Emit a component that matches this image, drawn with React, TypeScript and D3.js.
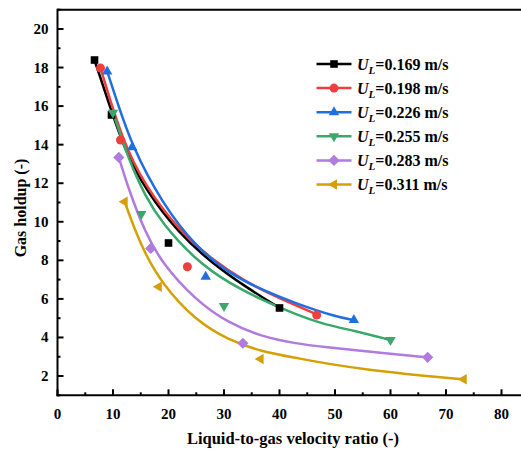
import React from "react";
import * as d3 from "d3";

// ---- Data ----
const seriesLabels = ["0.169", "0.198", "0.226", "0.255", "0.283", "0.311"];
const seriesColors = ["#000000", "#ee3f3f", "#1f6fe0", "#3aa86b", "#b07ade", "#d4a005"];
const seriesMarkers = ["square", "circle", "up", "down", "diamond", "left"];

// measured points
const x169 = [6.67, 9.73, 20, 40];
const y169 = [18.39, 15.54, 8.9, 5.53];
const x198 = [7.75, 11.35, 23.4, 46.7];
const y198 = [17.97, 14.24, 7.67, 5.16];
const x226 = [8.95, 13.45, 26.7, 53.4];
const y226 = [17.8, 13.86, 7.15, 4.9];
const x255 = [10.0, 15.1, 30.0, 60.0];
const y255 = [15.66, 10.4, 5.63, 3.87];
const x283 = [11.05, 16.8, 33.4, 66.7];
const y283 = [13.34, 8.62, 3.7, 2.97];
const x311 = [12.1, 18.25, 36.6, 73.2];
const y311 = [11.04, 6.63, 2.88, 1.83];

// fitted curves
const fitX169 = [6.67, 9.25, 12.0, 15.86, 21.86, 27.87, 33.87, 40];
const fitY169 = [18.39, 16.14, 13.8, 11.65, 9.4, 7.85, 6.63, 5.53];
const fitX198 = [7.75, 11.65, 15.86, 21.86, 27.87, 33.87, 39.88, 46.7];
const fitY198 = [17.97, 14.24, 11.82, 9.57, 8.02, 6.89, 6.03, 5.2];
const fitX226 = [8.95, 10.45, 13.45, 18.86, 24.86, 30.87, 36.88, 42.88, 50.09, 53.4];
const fitY226 = [17.8, 16.49, 13.89, 10.96, 8.71, 7.33, 6.46, 5.77, 5.08, 4.9];
const fitX255 = [10.0, 12.85, 15.86, 18.86, 24.86, 30.87, 36.88, 42.88, 47.4, 53.4, 60];
const fitY255 = [15.66, 13.2, 11.3, 9.92, 8.02, 6.81, 5.94, 5.2, 4.73, 4.35, 3.87];
const fitX283 = [11.05, 12.85, 15.86, 18.86, 24.86, 30.87, 36.88, 42.88, 47.4, 59.4, 66.7];
const fitY283 = [13.34, 11.65, 9.4, 7.85, 5.94, 4.73, 4.04, 3.69, 3.52, 3.17, 2.97];
const fitX311 = [12.1, 13.96, 15.77, 18.77, 24.77, 30.77, 36.79, 42.79, 49.1, 56.3, 65.3, 73.2];
const fitY311 = [11.04, 9.57, 8.36, 6.81, 4.9, 3.87, 3.26, 2.95, 2.61, 2.31, 2.03, 1.83];

const xMajor = [0, 10, 20, 30, 40, 50, 60, 70, 80];
const xMinor = [5, 15, 25, 35, 45, 55, 65, 75, 85];
const yMajor = [2, 4, 6, 8, 10, 12, 14, 16, 18, 20];
const yMinor = [1, 3, 5, 7, 9, 11, 13, 15, 17, 19, 21];

const xTitle = "Liquid-to-gas velocity ratio (-)";
const yTitle = "Gas holdup (-)";

const pointsX = [x169, x198, x226, x255, x283, x311];
const pointsY = [y169, y198, y226, y255, y283, y311];
const fitsX = [fitX169, fitX198, fitX226, fitX255, fitX283, fitX311];
const fitsY = [fitY169, fitY198, fitY226, fitY255, fitY283, fitY311];

const W = 521;
const H = 452;
const FONT = "'Liberation Serif', 'Times New Roman', serif";

const x = d3.scaleLinear().domain([0, 85]).range([57.5, 57.5 + 85 * 5.55]);
const y = d3.scaleLinear().domain([1, 21]).range([395.3, 9.7]);

function markerPath(type: string, cx: number, cy: number): string {
  const p = d3.path();
  if (type === "square") {
    const s = 3.8;
    p.rect(cx - s, cy - s, 2 * s, 2 * s);
  } else if (type === "circle") {
    p.arc(cx, cy, 4.5, 0, Math.PI * 2);
  } else if (type === "diamond") {
    const s = 5.6;
    p.moveTo(cx, cy - s);
    p.lineTo(cx + s, cy);
    p.lineTo(cx, cy + s);
    p.lineTo(cx - s, cy);
    p.closePath();
  } else {
    const a = 5.2;
    const h = a * Math.sqrt(3);
    let pts: [number, number][] = [];
    if (type === "up") pts = [[0, -(2 * h) / 3], [-a, h / 3], [a, h / 3]];
    if (type === "down") pts = [[0, (2 * h) / 3], [-a, -h / 3], [a, -h / 3]];
    if (type === "left") pts = [[-(2 * h) / 3, 0], [h / 3, -a], [h / 3, a]];
    p.moveTo(cx + pts[0][0], cy + pts[0][1]);
    p.lineTo(cx + pts[1][0], cy + pts[1][1]);
    p.lineTo(cx + pts[2][0], cy + pts[2][1]);
    p.closePath();
  }
  return p.toString();
}

export default function App() {
  const line = d3
    .line<[number, number]>()
    .x((d) => x(d[0]))
    .y((d) => y(d[1]))
    .curve(d3.curveBasis);

  const legendY0 = 64;
  const legendStep = 24.1;

  return (
    <div style={{ position: "absolute", left: 0, top: 0 }}>
      <svg width={W} height={H} style={{ display: "block", background: "#fff" }}>
        <rect x={0} y={0} width={W} height={H} fill="#fff" />
        {/* fitted curves */}
        {fitsX.map((fx, i) => (
          <path
            key={"fit" + i}
            d={line(fx.map((v, j) => [v, fitsY[i][j]] as [number, number])) || ""}
            fill="none"
            stroke={seriesColors[i]}
            strokeWidth={2.5}
            strokeLinejoin="round"
          />
        ))}
        {/* markers */}
        {pointsX.map((px, i) =>
          px.map((v, j) => (
            <path
              key={"m" + i + "-" + j}
              d={markerPath(seriesMarkers[i], x(v), y(pointsY[i][j]))}
              fill={seriesColors[i]}
            />
          ))
        )}
        {/* frame / axes */}
        <line x1={x(0)} x2={W + 10} y1={y(21)} y2={y(21)} stroke="#000" strokeWidth={2} />
        <line x1={x(0)} x2={x(0)} y1={y(21) - 1} y2={y(1) + 1} stroke="#000" strokeWidth={2} />
        <line x1={x(0) - 1} x2={W + 10} y1={y(1)} y2={y(1)} stroke="#000" strokeWidth={2} />
        {xMajor.map((t) => (
          <g key={"xM" + t}>
            <line x1={x(t)} x2={x(t)} y1={y(1)} y2={y(1) - 6} stroke="#000" strokeWidth={2} />
            <text
              x={x(t)}
              y={418.5}
              textAnchor="middle"
              fontFamily={FONT}
              fontWeight="bold"
              fontSize={15}
            >
              {t}
            </text>
          </g>
        ))}
        {xMinor.map((t) => (
          <line key={"xm" + t} x1={x(t)} x2={x(t)} y1={y(1)} y2={y(1) - 3} stroke="#000" strokeWidth={2} />
        ))}
        {yMajor.map((t) => (
          <g key={"yM" + t}>
            <line x1={x(0)} x2={x(0) + 6} y1={y(t)} y2={y(t)} stroke="#000" strokeWidth={2} />
            <text
              x={48.5}
              y={y(t) + 5}
              textAnchor="end"
              fontFamily={FONT}
              fontWeight="bold"
              fontSize={15}
            >
              {t}
            </text>
          </g>
        ))}
        {yMinor.map((t) => (
          <line key={"ym" + t} x1={x(0)} x2={x(0) + 3} y1={y(t)} y2={y(t)} stroke="#000" strokeWidth={2} />
        ))}
        {/* axis titles */}
        <text
          x={293}
          y={443.5}
          textAnchor="middle"
          fontFamily={FONT}
          fontWeight="bold"
          fontSize={16.5}
        >
          {xTitle}
        </text>
        <text
          transform={`translate(26,208) rotate(-90)`}
          textAnchor="middle"
          fontFamily={FONT}
          fontWeight="bold"
          fontSize={16}
        >
          {yTitle}
        </text>
        {/* legend */}
        {seriesLabels.map((lab, i) => {
          const ly = legendY0 + i * legendStep;
          return (
            <g key={"lg" + i}>
              <line x1={316.5} x2={351.5} y1={ly} y2={ly} stroke={seriesColors[i]} strokeWidth={2.5} />
              <path d={markerPath(seriesMarkers[i], 334, ly)} fill={seriesColors[i]} />
              <text x={357} y={ly + 5.5} fontFamily={FONT} fontWeight="bold" fontSize={16}>
                <tspan fontStyle="italic">U</tspan>
                <tspan fontStyle="italic" fontSize={11} dy={4}>
                  L
                </tspan>
                <tspan dy={-4}>{"=" + lab + " m/s"}</tspan>
              </text>
            </g>
          );
        })}
      </svg>
    </div>
  );
}
